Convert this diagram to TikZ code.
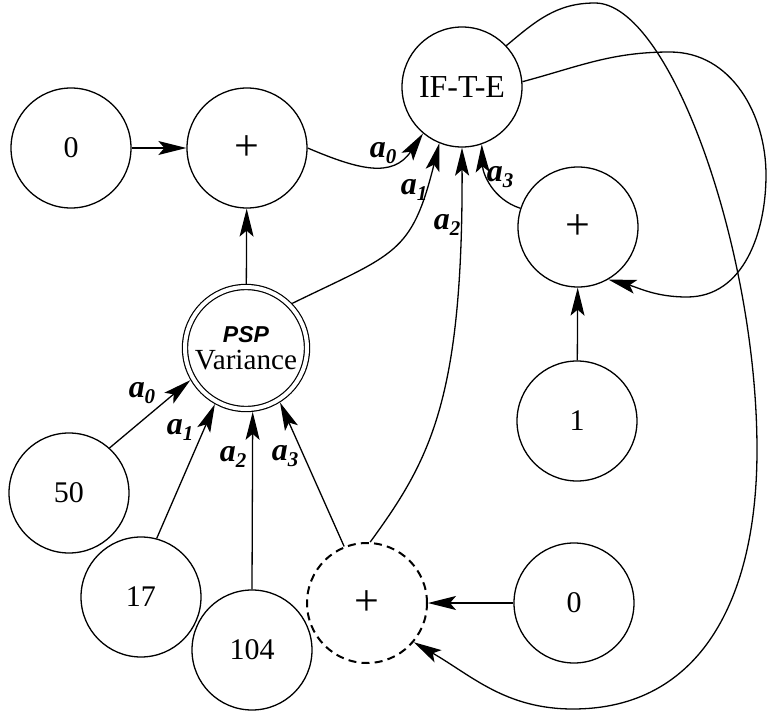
\documentclass[tikz,border=0pt]{standalone}
\usepackage{fontspec}
\setmainfont{Liberation Serif}
\newfontfamily\pspfont{Liberation Sans}
\usetikzlibrary{arrows.meta}
\newcommand\elab[1]{{\bfseries\itshape a\raisebox{-0.45ex}{\fontsize{10.5}{10.5}\selectfont #1}}}
\begin{document}
\begin{tikzpicture}[x=0.5pt,y=0.5pt,
  every node/.style={inner sep=0pt},
  vtx/.style={circle,draw,line width=0.65pt,minimum size=60pt,font=\fontsize{15}{15}\selectfont},
  plusfont/.style={font=\fontsize{22}{22}\selectfont},
  conn/.style={line width=0.65pt,-{Stealth[length=14pt,width=7pt,inset=3pt]}},
  wire/.style={line width=0.65pt},
  elabel/.style={font=\fontsize{16}{16}\selectfont}
]
\useasboundingbox (0,0) rectangle (767,-712);
% nodes
\node[vtx] (z0) at (71,-148) {0};
\node[vtx,plusfont] (p1) at (247,-148) {+};
\node[vtx,font=\fontsize{16}{16}\selectfont] (ite) at (462,-87) {IF-T-E};
\node[vtx,plusfont] (rp) at (578,-227) {+};
\node[vtx] (one) at (577,-421) {1};
\node[circle,draw,double,double distance=2pt,line width=0.6pt,minimum size=61pt,outer sep=1.6pt,align=center,font=\fontsize{14.6}{13.5}\selectfont] (psp) at (246,-348) {{\pspfont\bfseries\itshape\fontsize{11.5}{13.5}\selectfont PSP}\\Variance};
\node[vtx] (n50) at (69,-493) {50};
\node[vtx] (n17) at (141,-597) {17};
\node[vtx] (n104) at (252,-650) {104};
\node[vtx,plusfont,line width=1pt,dash pattern=on 4pt off 2.6pt] (dp) at (367,-603) {+};
\node[vtx] (z2) at (574,-603) {0};
% waypoints
\coordinate (pk7) at (670,-52);
\coordinate (r7) at (766,-175);
\coordinate (bt7) at (687,-297);
\coordinate (pk8) at (595,-3);
\coordinate (w8a) at (757,-450);
\coordinate (w8b) at (573,-709);
% connectors
\draw[conn] (z0) -- (p1);
\draw[conn] (psp) -- (p1);
\draw[conn] (p1.east) to[out=-23,in=236,looseness=1.2] (ite.230);
\draw[conn] (psp.44) to[out=26,in=256,looseness=1.35] (ite.248);
\draw[conn] (dp.87) .. controls (430,-460) and (463,-400) .. (ite.270);
\draw[conn] (rp.162) to[out=162,in=272] (ite.289);
\draw[conn] (ite.5) to[out=15,in=180] (pk7) to[out=0,in=90] (r7) to[out=270,in=0] (bt7) to[out=180,in=-15] (rp.300);
\draw[conn] (ite.43) to[out=40,in=180] (pk8) .. controls (670,-3) and (757,-250) .. (w8a) .. controls (757,-600) and (700,-709) .. (w8b) to[out=180,in=-30] (dp.320);
\draw[conn] (one) -- (rp);
\draw[conn] (z2) -- (dp);
\draw[conn] (n50.48) -- (psp.210);
\draw[conn] (n17.75) -- (psp.241);
\draw[conn] (n104.north) -- (psp.276);
\draw[conn] (dp.112) -- (psp.302);
% labels
\node[elabel] (la0) at (383,-153) {\elab{0}};
\node[elabel] (la1) at (414,-190) {\elab{1}};
\node[elabel] (la2) at (447,-225) {\elab{2}};
\node[elabel] (la3) at (500,-177) {\elab{3}};
\node[elabel] (lb0) at (142,-393) {\elab{0}};
\node[elabel] (lb1) at (180,-430) {\elab{1}};
\node[elabel] (lb2) at (233,-457) {\elab{2}};
\node[elabel] (lb3) at (285,-456) {\elab{3}};
\end{tikzpicture}
\end{document}
